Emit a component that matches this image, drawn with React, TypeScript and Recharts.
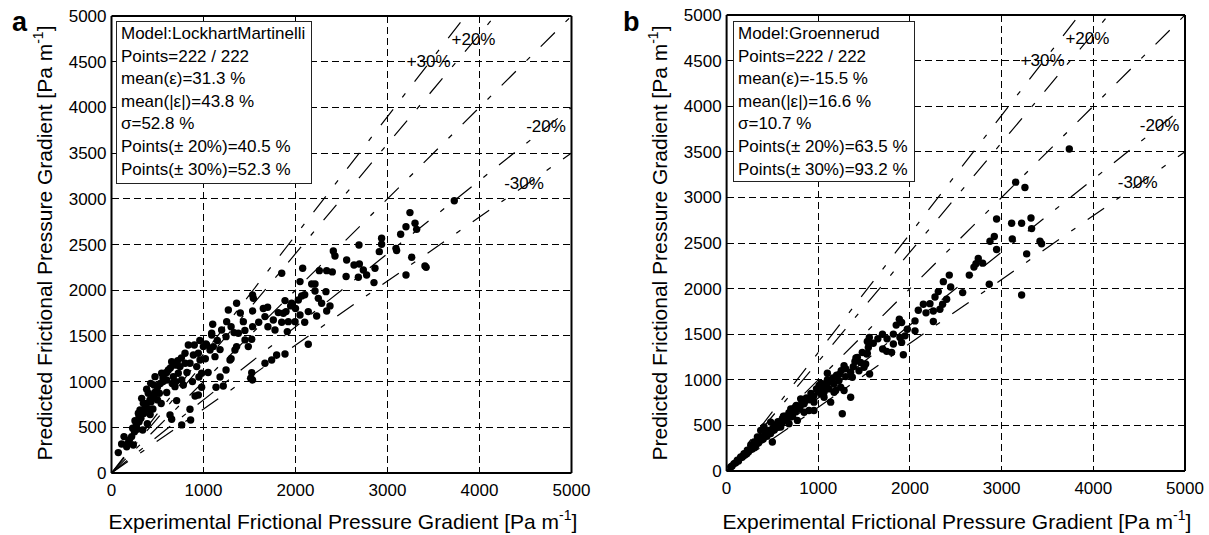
import React from 'react';
import { ScatterChart, Scatter, XAxis, YAxis, CartesianGrid, ReferenceLine, ReferenceDot } from 'recharts';

const xTicks = [0, 1000, 2000, 3000, 4000, 5000];
const yTicks = [0, 500, 1000, 1500, 2000, 2500, 3000, 3500, 4000, 4500, 5000];

// Panel a: Lockhart-Martinelli
const aExp = [3244, 3201, 3299, 3317, 3143, 3092, 3099, 3263, 3201, 3407, 3420, 2936, 2936, 2911, 2864, 2853, 2773, 2737, 2694, 2683, 2636, 2556, 2690, 2429, 2411, 2339, 2259, 2212, 2176, 2078, 2049, 1850, 2331, 2212, 2248, 2284, 2375, 2339, 2230, 2139, 2049, 2067, 2031, 1947, 1958, 1886, 1897, 1868, 1813, 1759, 1777, 1922, 1995, 1911, 2139, 1697, 1668, 1534, 1542, 1534, 1360, 1270, 1433, 1379, 1360, 1342, 1534, 1524, 1487, 1451, 1332, 1252, 1245, 1197, 1100, 1089, 1027, 1107, 1125, 1288, 1245, 1524, 1513, 1534, 1668, 1741, 1795, 1886, 1215, 1136, 980, 908, 944, 853, 860, 763, 636, 654, 708, 339, 74, 110, 136, 194, 219, 230, 255, 292, 310, 328, 346, 382, 400, 418, 426, 462, 473, 491, 545, 582, 600, 618, 654, 672, 690, 726, 745, 763, 799, 835, 853, 890, 926, 944, 962, 980, 998, 1034, 1071, 1089, 781, 520, 165, 237, 3726, 180, 250, 270, 300, 320, 350, 360, 380, 410, 430, 450, 470, 500, 530, 560, 560, 600, 640, 700, 720, 760, 800, 300, 280, 420, 450, 500, 390, 600, 660, 540, 700, 820, 880, 900, 960, 1020, 1150, 1180, 1300, 1400, 1450, 1600, 1650, 1700, 1850, 2000, 2100, 2400, 2550, 2100, 1300, 1050, 1180, 950];
const aPred = [2849, 2695, 2732, 2666, 2612, 2458, 2433, 2360, 2167, 2265, 2250, 2568, 2502, 2422, 2240, 2083, 2167, 2221, 2287, 2141, 2276, 2331, 2495, 2375, 2429, 2214, 2214, 2068, 2068, 2240, 2094, 2185, 1984, 1992, 1911, 1857, 1828, 1773, 1718, 1766, 1729, 1937, 1893, 1828, 1857, 1886, 1766, 1747, 1755, 1674, 1565, 1656, 1656, 1547, 1408, 1813, 1711, 1948, 1911, 1773, 1857, 1784, 1656, 1529, 1383, 1346, 1601, 1463, 1383, 1456, 1536, 1656, 1492, 1565, 1627, 1529, 1412, 1383, 1273, 1237, 1127, 1098, 1036, 1018, 1200, 1237, 1291, 1302, 952, 938, 938, 843, 854, 697, 580, 526, 635, 588, 792, 471, 223, 318, 398, 361, 398, 489, 573, 653, 690, 817, 762, 916, 872, 799, 981, 963, 1054, 872, 1091, 1091, 1018, 1127, 1218, 1054, 945, 1091, 1164, 1018, 1310, 1401, 1200, 1291, 1164, 1310, 1237, 1091, 1383, 1401, 1346, 1510, 963, 872, 288, 307, 2979, 330, 450, 520, 560, 600, 650, 700, 760, 700, 780, 830, 880, 940, 980, 1000, 1040, 1100, 1150, 1180, 1230, 1260, 1200, 620, 480, 640, 700, 800, 540, 880, 980, 760, 1000, 1100, 1000, 1400, 1450, 1250, 1450, 1350, 1600, 1750, 1560, 1650, 1800, 1600, 1650, 1800, 1950, 2200, 2150, 1650, 1250, 1100, 1050, 1050];

// Panel b: Groennerud
const bExp = [3738, 3153, 3254, 2945, 3109, 3218, 3320, 3327, 2920, 2873, 3116, 2945, 3418, 3436, 3273, 3218, 2745, 2720, 2698, 2793, 2647, 2865, 2575, 2429, 2364, 2444, 2309, 2400, 2273, 2356, 2218, 2146, 2091, 2175, 2255, 2327, 2255, 2055, 1884, 1909, 1971, 2055, 1946, 1891, 1909, 1819, 1819, 1928, 1702, 1746, 1800, 1557, 1546, 1528, 1411, 1535, 1535, 1517, 1462, 1426, 1382, 1281, 1353, 1299, 1226, 1172, 1099, 1063, 1008, 1026, 1063, 1135, 1262, 1353, 1281, 1190, 935, 953, 899, 845, 808, 790, 735, 772, 699, 644, 608, 554, 517, 481, 463, 426, 499, 372, 336, 299, 263, 226, 190, 154, 117, 81, 45, 390, 408, 590, 681, 845, 953, 1063, 1117, 1172, 1244, 1371, 1444, 1499, 1560, 60, 100, 130, 170, 200, 240, 280, 320, 350, 400, 440, 480, 520, 560, 600, 650, 700, 750, 800, 850, 900, 950, 1000, 1050, 1100, 1150, 1200, 1250, 1300, 620, 560, 700, 760, 300, 180, 220, 260, 340, 380, 420, 460, 500, 540, 580, 640, 680, 720, 780, 820, 870, 920, 980, 1030, 1100, 1160, 1230, 1400, 1480, 1600, 1650, 1700, 1750, 1850];
const bPred = [3531, 3167, 3109, 2763, 2716, 2716, 2774, 2658, 2571, 2520, 2545, 2429, 2520, 2491, 2381, 1930, 2330, 2272, 2236, 2279, 2148, 2047, 1956, 2148, 2076, 2018, 1967, 1883, 1908, 1828, 1835, 1828, 1763, 1734, 1755, 1774, 1639, 1646, 1664, 1628, 1555, 1537, 1482, 1464, 1410, 1501, 1392, 1275, 1337, 1312, 1301, 1464, 1355, 1282, 1239, 1420, 1290, 1173, 1191, 1246, 1144, 1155, 1082, 1035, 991, 955, 1071, 955, 937, 846, 809, 755, 627, 809, 882, 882, 827, 755, 664, 737, 791, 682, 645, 555, 591, 555, 573, 518, 500, 536, 445, 427, 318, 445, 373, 318, 282, 227, 190, 154, 118, 81, 45, 373, 482, 482, 518, 645, 664, 864, 900, 864, 918, 1028, 1100, 1137, 1064, 55, 90, 110, 150, 175, 210, 240, 280, 310, 350, 380, 410, 450, 480, 520, 560, 620, 650, 700, 760, 780, 820, 870, 900, 960, 1000, 1050, 1100, 1120, 600, 540, 680, 720, 260, 165, 190, 235, 330, 340, 400, 420, 460, 500, 510, 600, 640, 600, 700, 740, 800, 850, 900, 960, 1000, 1020, 1060, 1200, 1300, 1400, 1450, 1500, 1450, 1600];

// error band lines y = f * x
const bandFactors = [1.3, 1.2, 1.0, 0.8, 0.7];
const bandLabels = ['+30%', '+20%', '-20%', '-30%'];
const bandLabelX = [3446, 3935, 4723, 4484];
const bandLabelY = [4508, 4750, 3797, 3173];

const statsA = ['Model:LockhartMartinelli', 'Points=222 / 222', 'mean(\u03b5)=31.3 %', 'mean(|\u03b5|)=43.8 %', '\u03c3=52.8 %', 'Points(\u00b1 20%)=40.5 %', 'Points(\u00b1 30%)=52.3 %'];
const statsB = ['Model:Groennerud', 'Points=222 / 222', 'mean(\u03b5)=-15.5 %', 'mean(|\u03b5|)=16.6 %', '\u03c3=10.7 %', 'Points(\u00b1 20%)=63.5 %', 'Points(\u00b1 30%)=93.2 %'];

const FONT = "'Liberation Sans', Arial, Helvetica, sans-serif";
const MAXV = 5000;

const Dot = (p: any) => <circle cx={p.cx} cy={p.cy} r={3.7} fill="#000" />;

function Panel(props: { exp: number[]; pred: number[]; margin: any; width: number }) {
  const data = props.exp.map((x, i) => ({ x, y: props.pred[i] }));
  return (
    <ScatterChart width={props.width} height={535} margin={props.margin} style={{ fontFamily: FONT }}>
      <CartesianGrid stroke="#000" strokeDasharray="7 4" strokeWidth={1} shapeRendering="crispEdges" />
      <XAxis type="number" dataKey="x" domain={[0, MAXV]} ticks={xTicks} height={30}
        tickSize={0} tickMargin={11} axisLine={{ stroke: '#000', strokeWidth: 2 }}
        tick={{ fill: '#000', fontSize: 17, fontFamily: FONT }} interval={0} />
      <YAxis type="number" dataKey="y" domain={[0, MAXV]} ticks={yTicks} width={60}
        tickSize={0} tickMargin={5} axisLine={{ stroke: '#000', strokeWidth: 2 }}
        tick={{ fill: '#000', fontSize: 17, fontFamily: FONT }} interval={0} />
      {bandFactors.map((f, i) => {
        const ex = Math.min(MAXV, MAXV / f);
        return (
          <ReferenceLine key={'b' + i} segment={[{ x: 0, y: 0 }, { x: ex, y: ex * f }]}
            stroke="#000" strokeWidth={1.2} strokeDasharray="20 15 5 15" />
        );
      })}
      <ReferenceLine y={MAXV} stroke="#000" strokeWidth={2} />
      <ReferenceLine x={MAXV} stroke="#000" strokeWidth={2} />
      <Scatter data={data} shape={Dot} isAnimationActive={false} />
      {bandLabels.map((t, i) => (
        <ReferenceDot key={'l' + i} x={bandLabelX[i]} y={bandLabelY[i]} r={0} fill="none" stroke="none"
          label={{ value: t, position: 'center', fill: '#000', fontSize: 17, fontFamily: FONT }} />
      ))}
    </ScatterChart>
  );
}

function StatsBox(props: { lines: string[]; left: number; top: number; width: number; height: number }) {
  return (
    <div style={{
      position: 'absolute', left: props.left, top: props.top, width: props.width, height: props.height,
      boxSizing: 'border-box', border: '1px solid #222', background: '#fff', padding: '1px 0 0 4px',
      fontFamily: FONT, fontSize: 17, lineHeight: '22.6px', color: '#000', whiteSpace: 'nowrap',
    }}>
      {props.lines.map((l, i) => <div key={i}>{l}</div>)}
    </div>
  );
}

function Titles() {
  const xTitle = (cx: number) => (
    <text x={cx} y={529} textAnchor="middle" fontSize={21} fontFamily={FONT} fill="#000">
      Experimental Frictional Pressure Gradient [Pa m<tspan dy={-9} fontSize={14}>-1</tspan><tspan dy={9}>]</tspan>
    </text>
  );
  const yTitle = (bx: number) => (
    <text x={0} y={0} transform={`translate(${bx},243) rotate(-90)`} textAnchor="middle" fontSize={21} fontFamily={FONT} fill="#000">
      Predicted Frictional Pressure Gradient [Pa m<tspan dy={-9} fontSize={14}>-1</tspan><tspan dy={9}>]</tspan>
    </text>
  );
  return (
    <svg width={1209} height={535} style={{ position: 'absolute', left: 0, top: 0, pointerEvents: 'none' }}>
      {xTitle(343)}
      {xTitle(957)}
      {yTitle(52)}
      {yTitle(667)}
      <text x={12} y={31} fontSize={27} fontWeight="bold" fontFamily={FONT} fill="#000">a</text>
      <text x={623} y={31} fontSize={27} fontWeight="bold" fontFamily={FONT} fill="#000">b</text>
    </svg>
  );
}

export default function App() {
  return (
    <div style={{ position: 'absolute', left: 0, top: 0, width: 1209, height: 535, background: '#fff', overflow: 'hidden' }}>
      <div style={{ position: 'absolute', left: 0, top: 0 }}>
        <Panel exp={aExp} pred={aPred} width={600} margin={{ top: 16, right: 28.5, bottom: 32, left: 51.5 }} />
      </div>
      <div style={{ position: 'absolute', left: 600, top: 0 }}>
        <Panel exp={bExp} pred={bPred} width={609} margin={{ top: 15, right: 24, bottom: 34, left: 66.6 }} />
      </div>
      <StatsBox lines={statsA} left={116} top={21} width={196} height={163} />
      <StatsBox lines={statsB} left={733} top={21} width={182} height={161} />
      <Titles />
    </div>
  );
}
